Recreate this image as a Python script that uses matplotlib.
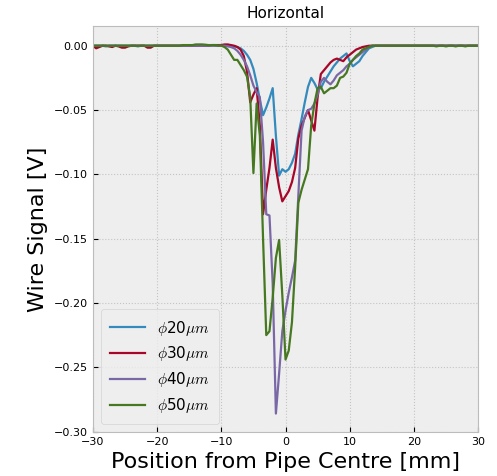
import numpy as np
import matplotlib
matplotlib.use("Agg")
import matplotlib.pyplot as plt

# wire scan positions [mm], 0.5 mm steps
position = np.arange(-30.0, 30.01, 0.5)

labels = [r"$\phi$20$\mu m$", r"$\phi$30$\mu m$", r"$\phi$40$\mu m$", r"$\phi$50$\mu m$"]

# signal [V] for each wire diameter
sig_20 = [
    0.0, 0.0, 0.0, 0.0, -0.0005, 0.0, 0.0, 0.0, 0.0, 0.0,
    0.0, 0.0, 0.0, 0.0, -0.0005, 0.0, 0.0, 0.0, 0.0, 0.0,
    0.0, 0.0, 0.0, 0.0, 0.0, 0.0, 0.0, 0.0, 0.0, 0.0005,
    0.0, 0.0, 0.0, 0.0005, 0.0005, 0.0, 0.0, 0.0005, 0.0005, 0.0005,
    0.0005, 0.0005, 0.0, 0.0, -0.0005, -0.001, -0.002, -0.004, -0.007, -0.011,
    -0.018, -0.029, -0.042, -0.054, -0.048, -0.041, -0.033, -0.07, -0.101, -0.096,
    -0.098, -0.096, -0.091, -0.084, -0.069, -0.057, -0.044, -0.032, -0.025, -0.029,
    -0.034, -0.033, -0.028, -0.024, -0.020, -0.016, -0.013, -0.010, -0.008, -0.006,
    -0.012, -0.016, -0.014, -0.012, -0.008, -0.005, -0.002, -0.001, 0.0, 0.0,
    0.0, 0.0, 0.0, 0.0, 0.0, 0.0, 0.0, 0.0, 0.0, 0.0,
    0.0, 0.0, 0.0, 0.0, 0.0, 0.0, 0.0, 0.0, 0.0, 0.0,
    0.0, 0.0, 0.0, 0.0, 0.0, 0.0, 0.0, 0.0, 0.0, 0.0,
    0.0,
]
sig_30 = [
    0.0, -0.002, -0.001, 0.0, 0.0, -0.0005, -0.001, 0.0, -0.0005, -0.0015,
    -0.0015, -0.0005, 0.0, 0.0, 0.0, 0.0, 0.0, -0.0015, -0.0015, 0.0,
    0.0, 0.0, 0.0, 0.0, 0.0, 0.0, 0.0, 0.0, 0.0, 0.0,
    0.0, 0.0, 0.0, 0.0, 0.0, 0.0, 0.0, 0.0005, 0.0005, 0.0005,
    0.0005, 0.001, 0.001, 0.0005, 0.0, -0.001, -0.003, -0.008, -0.020, -0.044,
    -0.038, -0.033, -0.062, -0.131, -0.112, -0.095, -0.073, -0.095, -0.110, -0.121,
    -0.117, -0.113, -0.106, -0.095, -0.072, -0.062, -0.056, -0.050, -0.058, -0.066,
    -0.040, -0.022, -0.019, -0.016, -0.013, -0.011, -0.010, -0.011, -0.012, -0.009,
    -0.007, -0.005, -0.003, -0.002, -0.001, -0.0005, 0.0, 0.0, 0.0, 0.0,
    0.0, 0.0, 0.0, 0.0, 0.0, 0.0, 0.0, 0.0, 0.0, 0.0,
    0.0, 0.0, 0.0, 0.0, 0.0, 0.0, 0.0, 0.0, 0.0, 0.0,
    0.0, 0.0, 0.0, 0.0, 0.0, 0.0, 0.0, 0.0, 0.0, 0.0,
    0.0,
]
sig_40 = [
    0.0, 0.0, 0.0, 0.0, 0.0, 0.0, 0.0, 0.0, 0.0, 0.0,
    0.0, 0.0, 0.0, 0.0, 0.0, 0.0, 0.0, 0.0, 0.0, 0.0,
    0.0, 0.0, 0.0, 0.0, 0.0, 0.0, 0.0, 0.0, 0.0, 0.0,
    0.0, 0.0, 0.0, 0.0, 0.0, 0.0, 0.0, 0.0, 0.0, 0.0,
    0.0, 0.0, -0.0005, -0.001, -0.002, -0.004, -0.007, -0.011, -0.016, -0.023,
    -0.031, -0.036, -0.040, -0.075, -0.131, -0.132, -0.185, -0.286, -0.255, -0.222,
    -0.206, -0.192, -0.180, -0.167, -0.116, -0.066, -0.055, -0.050, -0.049, -0.045,
    -0.038, -0.028, -0.025, -0.028, -0.030, -0.027, -0.023, -0.021, -0.019, -0.016,
    -0.014, -0.011, -0.009, -0.007, -0.005, -0.003, -0.001, 0.0, 0.0, 0.0,
    0.0, 0.0, 0.0, 0.0, 0.0, 0.0, 0.0, 0.0, 0.0, 0.0,
    0.0, 0.0, 0.0, 0.0, 0.0, 0.0, 0.0, 0.0, 0.0, 0.0,
    0.0, 0.0, 0.0, 0.0, 0.0, 0.0, 0.0, 0.0, 0.0, 0.0,
    0.0,
]
sig_50 = [
    0.0, 0.0, 0.0, 0.0, 0.0, 0.0, 0.0, 0.0, 0.0, 0.0,
    0.0, 0.0, 0.0, 0.0, 0.0, 0.0, 0.0, 0.0, 0.0, 0.0,
    0.0, 0.0, 0.0, 0.0, 0.0, 0.0, 0.0, 0.0, 0.0005, 0.0005,
    0.0005, 0.0005, 0.001, 0.001, 0.001, 0.0008, 0.0005, 0.0005, 0.0005, 0.0,
    0.0, -0.001, -0.003, -0.007, -0.011, -0.011, -0.015, -0.019, -0.024, -0.040,
    -0.099, -0.045, -0.070, -0.150, -0.225, -0.222, -0.196, -0.165, -0.151, -0.194,
    -0.244, -0.237, -0.215, -0.172, -0.122, -0.112, -0.104, -0.096, -0.062, -0.045,
    -0.033, -0.032, -0.037, -0.035, -0.033, -0.033, -0.031, -0.025, -0.024, -0.021,
    -0.014, -0.011, -0.008, -0.006, -0.003, -0.002, -0.001, 0.0, 0.0, 0.0,
    0.0, 0.0, 0.0, 0.0, 0.0, 0.0, 0.0, 0.0, 0.0, 0.0,
    0.0, 0.0, 0.0, 0.0, 0.0, 0.0, 0.0, -0.0005, 0.0, 0.0,
    -0.0005, 0.0, 0.0, -0.0005, 0.0, 0.0, -0.0005, 0.0, 0.0, 0.0,
    0.0,
]
signals = [sig_20, sig_30, sig_40, sig_50]

plt.style.use("bmh")
plt.rcParams["mathtext.fontset"] = "cm"
plt.rcParams["grid.linestyle"] = ":"
plt.rcParams["grid.linewidth"] = 0.8
plt.rcParams["grid.color"] = "#c4c4c4"

fig = plt.figure(figsize=(4.97, 4.76), dpi=100)
ax = fig.add_axes([0.187, 0.0924, 0.775, 0.853])

for sig, lab in zip(signals, labels):
    ax.plot(position, sig, label=lab, linewidth=1.6)

ax.set_xlim(-30, 30)
ax.set_title("Horizontal", fontsize=11)
ax.set_xlabel("Position from Pipe Centre [mm]", fontsize=16)
ax.set_ylabel("Wire Signal [V]", fontsize=16)
ax.tick_params(labelsize=8)
ax.legend(loc="lower left", fontsize=11, labelspacing=0.45,
          handlelength=2.3, borderpad=0.6)

fig.savefig("out.png", dpi=100)
